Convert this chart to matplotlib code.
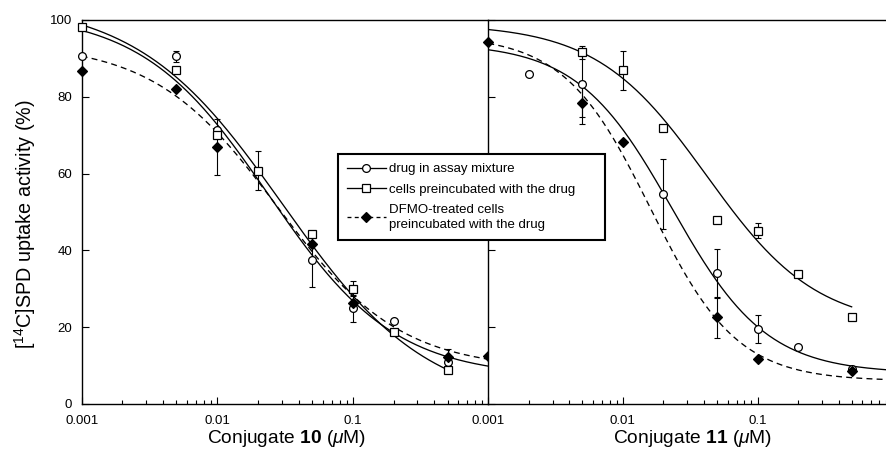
import numpy as np
import matplotlib
matplotlib.use("Agg")
import matplotlib.pyplot as plt
from matplotlib.lines import Line2D
from matplotlib.ticker import NullFormatter, LogLocator

plt.rcParams.update({
    "font.family": ["Liberation Sans", "DejaVu Sans"],
    "mathtext.fontset": "custom",
    "mathtext.rm": "Liberation Sans",
    "mathtext.it": "Liberation Sans:italic",
    "mathtext.bf": "Liberation Sans:bold",
})

nan = np.nan
# concentrations (uM)
conc = [0.001, 0.002, 0.005, 0.01, 0.02, 0.05, 0.1, 0.2, 0.5, 1.0]

# Conjugate 10
c10_assay = [90.6, nan, 90.5, 71.4, nan, 37.5, 24.9, 21.7, 11.0, nan]
c10_assay_err = [0, 0, 1.5, 0, 0, 7.0, 3.5, 0, 0, 0]
c10_pre = [98.1, nan, 86.9, 70.0, 60.8, 44.3, 30.0, 18.7, 8.9, nan]
c10_pre_err = [0, 0, 0, 0, 5.0, 0, 2.0, 0, 0, 0]
c10_dfmo = [86.7, nan, 82.0, 67.0, nan, 41.6, 26.2, nan, 12.2, 12.6]
c10_dfmo_err = [0, 0, 0, 7.3, 0, 0, 0, 0, 2.0, 0]

# Conjugate 11
c11_assay = [nan, 85.9, 83.3, nan, 54.7, 34.0, 19.5, 14.9, 9.0, nan]
c11_assay_err = [0, 0, 8.6, 0, 9.0, 6.3, 3.6, 0, 0, 0]
c11_pre = [nan, nan, 91.6, 86.9, 72.0, 47.8, 45.1, 33.8, 22.6, nan]
c11_pre_err = [0, 0, 1.7, 5.0, 0, 0, 2.0, 0, 0, 0]
c11_dfmo = [94.4, nan, 78.5, 68.1, nan, 22.6, 11.6, nan, 8.6, nan]
c11_dfmo_err = [0, 0, 5.6, 0, 0, 5.3, 0, 0, 0, 0]

# fitted sigmoid curves: top, bottom, x50, hill slope, x end
fit10_assay = [102, 7, 0.0239, 0.93, 1.0]
fit10_pre = [105, -1, 0.0304, 0.811, 0.5]
fit10_dfmo = [94, 9, 0.0276, 0.956, 1.0]
fit11_assay = [94, 8, 0.0231, 1.234, 0.9]
fit11_pre = [99, 20, 0.0418, 1.06, 0.5]
fit11_dfmo = [96, 6, 0.016, 1.35, 0.9]

labels = ["drug in assay mixture",
          "cells preincubated with the drug",
          "DFMO-treated cells\npreincubated with the drug"]

W, H = 886, 451
fig = plt.figure(figsize=(W / 100, H / 100), dpi=100)
x_l, x_m, x_r = 81.7, 488.3, 886.0
y_t, y_b = 20.0, 404.0
axL = fig.add_axes([x_l / W, 1 - y_b / H, (x_m - x_l) / W, (y_b - y_t) / H])
axR = fig.add_axes([x_m / W, 1 - y_b / H, (x_r - x_m) / W, (y_b - y_t) / H])

styles = [
    dict(marker="o", ms=5.6, mfc="white", ls="-"),
    dict(marker="s", ms=5.4, mfc="white", ls="-"),
    dict(marker="D", ms=5.0, mfc="black", ls="--"),
]


def fourpl(x, top, bottom, x50, h):
    return bottom + (top - bottom) / (1 + (x / x50) ** h)


def draw(ax, series):
    x = np.array(conc)
    for (vals, errs, fit), st in zip(series, styles):
        y = np.array(vals, dtype=float)
        e = np.array(errs, dtype=float)
        m = ~np.isnan(y)
        em = m & (e > 0)
        xs = np.logspace(-3, np.log10(fit[4]), 300)
        ln, = ax.plot(xs, fourpl(xs, *fit[:4]), color="black", lw=0.95,
                      ls=st["ls"], zorder=2)
        if st["ls"] == "--":
            ln.set_dashes((4.5, 3.2))
        if em.any():
            ax.errorbar(x[em], y[em], yerr=e[em], fmt="none", ecolor="black",
                        elinewidth=0.8, capsize=2.3, capthick=0.8, zorder=3,
                        clip_on=False)
        ax.plot(x[m], y[m], ls="none", marker=st["marker"], ms=st["ms"],
                mfc=st["mfc"], mec="black", mew=0.9, zorder=4, clip_on=False)


draw(axL, [(c10_assay, c10_assay_err, fit10_assay),
           (c10_pre, c10_pre_err, fit10_pre),
           (c10_dfmo, c10_dfmo_err, fit10_dfmo)])
draw(axR, [(c11_assay, c11_assay_err, fit11_assay),
           (c11_pre, c11_pre_err, fit11_pre),
           (c11_dfmo, c11_dfmo_err, fit11_dfmo)])

for ax, xmax in ((axL, 1.0), (axR, 0.9)):
    ax.set_xscale("log")
    ax.set_xlim(0.001, xmax)
    ax.set_ylim(0, 100)
    ax.set_xticks([0.001, 0.01, 0.1])
    ax.set_xticklabels(["0.001", "0.01", "0.1"])
    ax.xaxis.set_minor_locator(LogLocator(base=10, subs=np.arange(2, 10)))
    ax.xaxis.set_minor_formatter(NullFormatter())
    ax.set_yticks([0, 20, 40, 60, 80, 100])
    ax.tick_params(which="both", direction="in", top=False, right=False,
                   width=0.8, labelsize=9.5, pad=8)
    ax.tick_params(which="major", length=5)
    ax.tick_params(which="minor", length=3)
    ax.tick_params(axis="y", pad=7)
    for s in ax.spines.values():
        s.set_linewidth(1.0)

axL.spines["right"].set_visible(False)
axR.spines["right"].set_visible(False)
axR.tick_params(axis="y", labelleft=False)

axL.set_ylabel(r"[$^{14}$C]SPD uptake activity (%)", fontsize=14.2)
axL.yaxis.set_label_coords(-0.107, 0.469)
axL.set_xlabel(r"Conjugate $\mathbf{10}$ ($\mathit{\mu}$M)", fontsize=13.8)
axL.xaxis.set_label_coords(0.505, -0.062)
axR.set_xlabel(r"Conjugate $\mathbf{11}$ ($\mathit{\mu}$M)", fontsize=13.8)
axR.xaxis.set_label_coords(0.513, -0.062)

handles = [Line2D([], [], color="black", lw=0.95, ls=st["ls"],
                  marker=st["marker"], ms=st["ms"], mfc=st["mfc"],
                  mec="black", mew=0.9) for st in styles]
handles[2].set_dashes((3, 2.5))
leg = fig.legend(handles, labels, loc="upper left",
                 bbox_to_anchor=(338 / W, 1 - 239 / H, 267 / W, 85 / H),
                 bbox_transform=fig.transFigure, mode="expand",
                 borderaxespad=0, fontsize=9.5, handlelength=2.9,
                 handletextpad=0.3, labelspacing=0.62, borderpad=0.7,
                 fancybox=False, framealpha=1, edgecolor="black",
                 numpoints=1)
leg.get_frame().set_linewidth(1.5)
leg.get_texts()[2].set_linespacing(1.3)

fig.savefig("out.png", dpi=100)
